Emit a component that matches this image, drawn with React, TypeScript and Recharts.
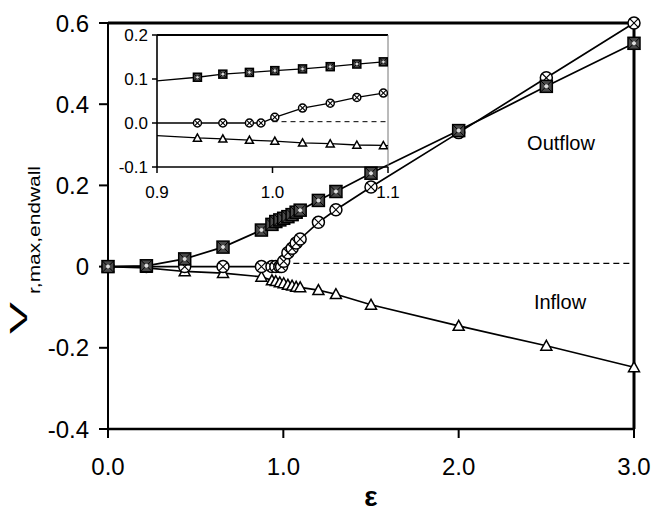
import React from 'react';
import { LineChart, Line, XAxis, YAxis, ReferenceLine } from 'recharts';

// ---- data ----
const squareEps = [0, 0.219, 0.4375, 0.656, 0.875, 0.935, 0.957, 0.98, 1.002, 1.026, 1.05, 1.073, 1.096, 1.2, 1.3, 1.5, 2.0, 2.5, 3.0];
const squareVals = [0, 0.002, 0.019, 0.048, 0.09, 0.104, 0.111, 0.115, 0.119, 0.123, 0.128, 0.134, 0.139, 0.163, 0.185, 0.23, 0.335, 0.444, 0.55];

const circleEps = [0, 0.219, 0.4375, 0.656, 0.875, 0.935, 0.957, 0.98, 0.99, 1.002, 1.026, 1.05, 1.073, 1.096, 1.2, 1.3, 1.5, 2.0, 2.5, 3.0];
const circleVals = [0, 0, 0, 0, 0, 0, 0, 0, 0, 0.013, 0.034, 0.045, 0.058, 0.068, 0.109, 0.14, 0.196, 0.33, 0.465, 0.6];

const triangleEps = [0, 0.219, 0.4375, 0.656, 0.875, 0.935, 0.957, 0.98, 1.002, 1.026, 1.05, 1.073, 1.096, 1.2, 1.3, 1.5, 2.0, 2.5, 3.0];
const triangleVals = [0, -0.003, -0.012, -0.016, -0.025, -0.034, -0.036, -0.039, -0.041, -0.045, -0.047, -0.05, -0.051, -0.058, -0.068, -0.094, -0.146, -0.195, -0.248];

const mainDashEps = [1.0, 3.0];
const mainDashVals = [0.008, 0.008];
const insetDashEps = [1.0, 1.1];
const insetDashVals = [0.003, 0.003];

const mainXTicks = [0, 1, 2, 3];
const mainYTicks = [-0.4, -0.2, 0, 0.2, 0.4, 0.6];
const insetXTicks = [0.9, 1.0, 1.1];
const insetYTicks = [-0.1, 0, 0.1, 0.2];

const zip = (xs: number[], ys: number[]) => xs.map((x, i) => ({ eps: x, v: ys[i] }));
const squareData = zip(squareEps, squareVals);
const circleData = zip(circleEps, circleVals);
const triangleData = zip(triangleEps, triangleVals);
const mainDash = zip(mainDashEps, mainDashVals);
const insetDash = zip(insetDashEps, insetDashVals);

const FONT = 'Liberation Sans, Arial, Helvetica, sans-serif';

// ---- markers ----
const squareDot = (s: number) => (p: any) => {
  const { cx, cy, index } = p;
  if (cx == null || cy == null) return <g key={'s' + index} />;
  const h = s / 2;
  return (
    <g key={'s' + index}>
      <rect x={cx - h} y={cy - h} width={s} height={s} fill="#4a4a4a" stroke="#000" strokeWidth={1.5} />
      <line x1={cx - h} y1={cy - h} x2={cx + h} y2={cy + h} stroke="#000" strokeWidth={1} />
      <line x1={cx - h} y1={cy + h} x2={cx + h} y2={cy - h} stroke="#000" strokeWidth={1} />
      <circle cx={cx} cy={cy} r={s / 6} fill="#ddd" />
    </g>
  );
};

const circleDot = (r: number) => (p: any) => {
  const { cx, cy, index } = p;
  if (cx == null || cy == null) return <g key={'c' + index} />;
  const d = r * 0.72;
  return (
    <g key={'c' + index}>
      <circle cx={cx} cy={cy} r={r} fill="#fff" stroke="#000" strokeWidth={1.5} />
      <line x1={cx - d} y1={cy - d} x2={cx + d} y2={cy + d} stroke="#000" strokeWidth={1.1} />
      <line x1={cx - d} y1={cy + d} x2={cx + d} y2={cy - d} stroke="#000" strokeWidth={1.1} />
    </g>
  );
};

const triDot = (s: number) => (p: any) => {
  const { cx, cy, index } = p;
  if (cx == null || cy == null) return <g key={'t' + index} />;
  const h = s / 2;
  return (
    <polygon
      key={'t' + index}
      points={`${cx},${cy - h} ${cx - h},${cy + h * 0.8} ${cx + h},${cy + h * 0.8}`}
      fill="#fff"
      stroke="#000"
      strokeWidth={1.5}
    />
  );
};

export default function App() {
  return (
    <div style={{ position: 'absolute', left: 0, top: 0, width: 653, height: 516, background: '#fff' }}>
      {/* Main chart */}
      <div style={{ position: 'absolute', left: 0, top: 0 }}>
        <LineChart width={653} height={516} margin={{ top: 23, right: 19, left: 0, bottom: 0 }}>
          <XAxis
            type="number"
            dataKey="eps"
            domain={[0, 3]}
            ticks={mainXTicks}
            tickFormatter={(v: number) => v.toFixed(1)}
            height={87}
            tickSize={9}
            tickMargin={20}
            axisLine={{ stroke: '#000', strokeWidth: 2.5 }}
            tickLine={{ stroke: '#000', strokeWidth: 2 }}
            tick={{ fill: '#000', fontSize: 24, fontFamily: FONT }}
          />
          <YAxis
            type="number"
            dataKey="v"
            domain={[-0.4, 0.6]}
            ticks={mainYTicks}
            tickFormatter={(v: number) => (v === 0 ? '0' : v.toFixed(1))}
            width={108}
            tickSize={9}
            tickMargin={10}
            axisLine={{ stroke: '#000', strokeWidth: 2 }}
            tickLine={{ stroke: '#000', strokeWidth: 2 }}
            tick={{ fill: '#000', fontSize: 24, fontFamily: FONT }}
          />
          <ReferenceLine y={0.6} stroke="#000" strokeWidth={3} />
          <ReferenceLine x={3} stroke="#000" strokeWidth={3} />
          <Line data={mainDash} dataKey="v" stroke="#000" strokeWidth={1.3} strokeDasharray="6 4" dot={false} isAnimationActive={false} />
          <Line data={triangleData} dataKey="v" stroke="#000" strokeWidth={1.7} dot={triDot(11)} isAnimationActive={false} />
          <Line data={circleData} dataKey="v" stroke="#000" strokeWidth={1.7} dot={circleDot(6)} isAnimationActive={false} />
          <Line data={squareData} dataKey="v" stroke="#000" strokeWidth={1.7} dot={squareDot(12)} isAnimationActive={false} />
        </LineChart>
      </div>

      {/* Inset chart */}
      <div style={{ position: 'absolute', left: 100, top: 20 }}>
        <LineChart width={300} height={190} margin={{ top: 15, right: 12, left: 0, bottom: 0 }}>
          <XAxis
            type="number"
            dataKey="eps"
            domain={[0.9, 1.1]}
            allowDataOverflow
            ticks={insetXTicks}
            tickFormatter={(v: number) => v.toFixed(1)}
            height={43}
            tickSize={6}
            tickMargin={13}
            axisLine={{ stroke: '#000', strokeWidth: 1.6 }}
            tickLine={{ stroke: '#000', strokeWidth: 1.5 }}
            tick={{ fill: '#000', fontSize: 17, fontFamily: FONT }}
          />
          <YAxis
            type="number"
            dataKey="v"
            domain={[-0.1, 0.2]}
            allowDataOverflow
            ticks={insetYTicks}
            tickFormatter={(v: number) => v.toFixed(1)}
            width={57}
            tickSize={5}
            tickMargin={4}
            axisLine={{ stroke: '#000', strokeWidth: 1.6 }}
            tickLine={{ stroke: '#000', strokeWidth: 1.5 }}
            tick={{ fill: '#000', fontSize: 17, fontFamily: FONT }}
          />
          <ReferenceLine y={0.2} stroke="#000" strokeWidth={2} />
          <ReferenceLine x={1.1} stroke="#777" strokeWidth={1} />
          <Line data={insetDash} dataKey="v" stroke="#000" strokeWidth={1} strokeDasharray="5 4" dot={false} isAnimationActive={false} />
          <Line data={triangleData} dataKey="v" stroke="#000" strokeWidth={1.3} dot={triDot(8)} isAnimationActive={false} />
          <Line data={circleData} dataKey="v" stroke="#000" strokeWidth={1.3} dot={circleDot(4)} isAnimationActive={false} />
          <Line data={squareData} dataKey="v" stroke="#000" strokeWidth={1.3} dot={squareDot(8)} isAnimationActive={false} />
        </LineChart>
      </div>

      {/* Text overlay */}
      <svg width={653} height={516} style={{ position: 'absolute', left: 0, top: 0, pointerEvents: 'none' }}>
        <text
          x={27}
          y={334}
          transform="rotate(-90, 27, 334)"
          textAnchor="start"
          fontFamily={FONT}
          fontSize={23}
          textLength={32}
          lengthAdjust="spacingAndGlyphs"
          fill="#000"
        >
          V
        </text>
        <text
          x={40}
          y={294}
          transform="rotate(-90, 40, 294)"
          textAnchor="start"
          fontFamily={FONT}
          fontSize={17}
          textLength={128}
          lengthAdjust="spacingAndGlyphs"
          fill="#000"
        >
          r,max,endwall
        </text>
        <text x={371} y={506} textAnchor="middle" fontFamily={FONT} fontSize={28} fontWeight="bold" fill="#000">ε</text>
        <text x={561} y={150} textAnchor="middle" fontFamily={FONT} fontSize={20} fill="#000">Outflow</text>
        <text x={560} y={309} textAnchor="middle" fontFamily={FONT} fontSize={20} fill="#000">Inflow</text>
      </svg>
    </div>
  );
}
